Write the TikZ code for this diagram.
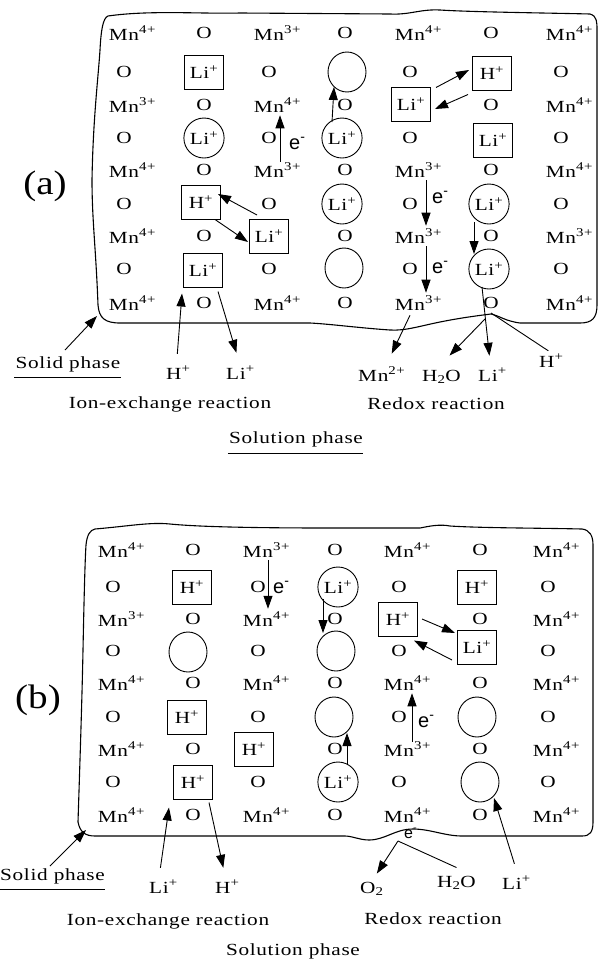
\documentclass[tikz,border=0pt]{standalone}
\usepackage{fontspec}
\setmainfont{Liberation Serif}[FakeStretch=1.25, LetterSpace=4]
\newfontfamily\efam{Liberation Sans}
\newfontfamily\plfam{Liberation Serif}[FakeStretch=1.15]
\usetikzlibrary{calc,shapes.geometric,arrows.meta}
\newcommand\mnx[1]{Mn\rlap{\textsuperscript{#1}}}
\newcommand\lip{Li\textsuperscript{+}}
\newcommand\hp{H\textsuperscript{+}}
\newcommand\elec{e\textsuperscript{-}}
\newcommand\fs{\fontsize{17}{19}\selectfont}
\tikzset{
  t/.style={inner sep=0pt, font=\fs},
  lb/.style={inner sep=0pt, font=\fs, anchor=base west},
  lc/.style={inner sep=0pt, font=\fs, anchor=base},
  bx/.style={draw, line width=1pt, minimum width=39pt, minimum height=34pt, inner sep=0pt, font=\fs},
  cc/.style={draw, ellipse, line width=0.9pt, minimum width=38pt, minimum height=40pt, inner sep=0pt, font=\fs},
  el/.style={inner sep=0pt, anchor=base west, font=\efam\fontsize{20}{21}\selectfont},
  arr/.style={-{Triangle[length=13pt,width=9pt]}, line width=0.9pt},
  ln/.style={line width=0.9pt},
  bd/.style={line width=1.1pt, line join=round},
  ul/.style={line width=0.9pt},
  pl/.style={inner sep=0pt, font=\plfam\fontsize{34}{36}\selectfont}
}
\begin{document}
\begin{tikzpicture}[x=1pt,y=-1pt]
\useasboundingbox (0,0) rectangle (598,975);
\fill[white] (0,0) rectangle (598,975);
% ================= panel (a) =================
\node[pl] (la) at (45,186) {(a)};
\draw[bd] (108,16) .. controls (150,10) and (200,14) .. (240,13) -- (390,14)
  .. controls (410,15) and (420,9) .. (440,10) .. controls (470,12) and (550,13) .. (590,14)
  .. controls (597,16) and (597,22) .. (597,30) -- (597,305)
  .. controls (597,318) and (592,323) .. (580,323) -- (520,323)
  .. controls (505,321) and (500,316) .. (491,314) .. controls (475,316) and (460,318) .. (440,322)
  .. controls (420,326) and (405,331) .. (390,330) .. controls (360,328) and (330,324) .. (310,323)
  -- (120,323) .. controls (105,323) and (99,318) .. (98,305)
  .. controls (96,250) and (92,220) .. (92,180) .. controls (93,120) and (98,80) .. (100,50)
  .. controls (101,30) and (103,18) .. (108,16);
% row 1
\node[t] (a11) at (124,33) {\mnx{4+}};
\node[t] (a12) at (204,33) {O};
\node[t] (a13) at (269,33) {\mnx{3+}};
\node[t] (a14) at (345,33) {O};
\node[t] (a15) at (410,33) {\mnx{4+}};
\node[t] (a16) at (491,33) {O};
\node[t] (a17) at (561,33) {\mnx{4+}};
% row 2
\node[t] (a21) at (124,72) {O};
\node[bx] (a22) at (204,72) {\lip};
\node[t] (a23) at (269,72) {O};
\node[cc] (a24) at (347,72) {};
\node[t] (a25) at (410,72) {O};
\node[bx] (a26) at (492,73) {\hp};
\node[t] (a27) at (561,72) {O};
% row 3
\node[t] (a31) at (124,105) {\mnx{3+}};
\node[t] (a32) at (204,105) {O};
\node[t] (a33) at (269,105) {\mnx{4+}};
\node[t] (a34) at (345,105) {O};
\node[bx] (a35) at (411,104) {\lip};
\node[t] (a36) at (491,105) {O};
\node[t] (a37) at (561,105) {\mnx{4+}};
% row 4
\node[t] (a41) at (124,138) {O};
\node[cc] (a42) at (204,138) {\lip};
\node[t] (a43) at (269,138) {O};
\node[cc] (a44) at (342,138) {\lip};
\node[t] (a45) at (410,138) {O};
\node[bx] (a46) at (493,140) {\lip};
\node[t] (a47) at (561,138) {O};
% row 5
\node[t] (a51) at (124,170) {\mnx{4+}};
\node[t] (a52) at (204,170) {O};
\node[t] (a53) at (269,170) {\mnx{3+}};
\node[t] (a54) at (345,170) {O};
\node[t] (a55) at (410,170) {\mnx{3+}};
\node[t] (a56) at (491,170) {O};
\node[t] (a57) at (561,170) {\mnx{4+}};
% row 6
\node[t] (a61) at (124,204) {O};
\node[bx] (a62) at (201,202) {\hp};
\node[t] (a63) at (269,204) {O};
\node[cc] (a64) at (342,204) {\lip};
\node[t] (a65) at (410,204) {O};
\node[cc] (a66) at (489,204) {\lip};
\node[t] (a67) at (561,204) {O};
% row 7
\node[t] (a71) at (124,236) {\mnx{4+}};
\node[t] (a72) at (204,236) {O};
\node[bx] (a73) at (269,236) {\lip};
\node[t] (a74) at (345,236) {O};
\node[t] (a75) at (410,236) {\mnx{3+}};
\node[t] (a76) at (491,236) {O};
\node[t] (a77) at (561,236) {\mnx{3+}};
% row 8
\node[t] (a81) at (124,269) {O};
\node[bx] (a82) at (203,270) {\lip};
\node[t] (a83) at (269,269) {O};
\node[cc] (a84) at (344,268) {};
\node[t] (a85) at (410,269) {O};
\node[cc] (a86) at (489,269) {\lip};
\node[t] (a87) at (561,269) {O};
% row 9
\node[t] (a91) at (124,303) {\mnx{4+}};
\node[t] (a92) at (204,303) {O};
\node[t] (a93) at (269,303) {\mnx{4+}};
\node[t] (a94) at (345,303) {O};
\node[t] (a95) at (410,303) {\mnx{3+}};
\node[t] (a96) at (491,303) {O};
\node[t] (a97) at (561,303) {\mnx{4+}};
% electrons
\node[el] (ae1) at (289,149) {\elec};
\node[el] (ae2) at (432,203) {\elec};
\node[el] (ae3) at (432,273) {\elec};
% internal arrows
\draw[arr] ($(a53.north)+(11,-1)$) -- ($(a33.south)+(11,3)$);
\draw[arr] ($(a44.center)+(-10,-16)$) -- ($(a24.center)+(-13,15)$);
\draw[arr] ($(a35.north east)+(5,1)$) -- ($(a26.west)+(-3,-3)$);
\draw[arr] ($(a26.south west)+(-4,4)$) -- ($(a35.east)+(4,5)$);
\draw[arr] ($(a63.center)+(-12,11)$) -- ($(a62.east)+(-3,-8)$);
\draw[arr] ($(a62.south east)+(-6,0)$) -- ($(a73.west)+(-1,6)$);
\draw[arr] ($(a55.south)+(16,3)$) -- ($(a75.north)+(16,-3)$);
\draw[arr] ($(a75.south)+(16,3)$) -- ($(a95.north)+(16,-3)$);
\draw[arr] ($(a66.center)+(-15,18)$) -- ($(a86.center)+(-15,-15)$);
% bottom labels (a)
\node[lc] (asp) at (68,368) {Solid phase};
\draw[ul] ($(asp.base west)+(-1,9)$) -- ($(asp.base east)+(0,9)$);
\node[lb] (aH) at (166,379) {\hp};
\node[lb] (aL) at (226,379) {\lip};
\node[lc] (aie) at (170,408) {Ion-exchange reaction};
\node[lb] (aM) at (358,381) {Mn\textsuperscript{2+}};
\node[lb] (aW) at (422,381) {H\textsubscript{2}O};
\node[lb] (aL2) at (478,381) {\lip};
\node[lb] (aH2) at (539,367) {\hp};
\node[lc] (ard) at (436,409) {Redox reaction};
\node[lc] (aso) at (296,443) {Solution phase};
\draw[ul] ($(aso.base west)+(-1,10)$) -- ($(aso.base east)+(0,10)$);
\coordinate (aJ) at (485,319);
\draw[arr] (65,350) -- (97,316);
\draw[arr] ($(aH.north)+(-1,-12)$) -- ($(a82.south west)+(-1,6)$);
\draw[arr] ($(a82.south east)+(-5,4)$) -- ($(aL.north)+(-4,-13)$);
\draw[arr] ($(a95.south)+(0,5)$) -- ($(aM.north)+(10,-13)$);
\draw[arr] (aJ) -- ($(aW.north)+(8,-14)$);
\draw[arr] ($(a86.center)+(-7,18)$) -- ($(aL2.north)+(-3,-12)$);
\draw[ln] ($(aH2.north)+(-3,-3)$) -- (491,313);
% ================= panel (b) =================
\node[pl] (lb) at (38,700) {(b)};
\draw[bd] (95,529) .. controls (130,526) and (150,522) .. (170,524) .. controls (200,527) and (260,528) .. (330,528)
  -- (420,528) .. controls (430,526) and (440,524) .. (450,526) .. controls (480,528) and (540,528) .. (582,529)
  .. controls (590,530) and (593,536) .. (593,545) -- (593,822)
  .. controls (593,832) and (590,836) .. (582,836) -- (462,836)
  .. controls (445,836) and (430,829) .. (413,829) .. controls (395,829) and (385,840) .. (369,840)
  .. controls (360,840) and (352,836) .. (345,836) -- (95,836)
  .. controls (85,836) and (80,832) .. (78,822) .. controls (80,760) and (82,700) .. (83,650)
  .. controls (84,600) and (85,560) .. (86,545) .. controls (87,535) and (90,530) .. (95,529);
% row 1
\node[t] (b11) at (113,550) {\mnx{4+}};
\node[t] (b12) at (193,550) {O};
\node[t] (b13) at (258,550) {\mnx{3+}};
\node[t] (b14) at (335,550) {O};
\node[t] (b15) at (399,550) {\mnx{4+}};
\node[t] (b16) at (480,550) {O};
\node[t] (b17) at (548,550) {\mnx{4+}};
% row 2
\node[t] (b21) at (113,587) {O};
\node[bx] (b22) at (192,587) {\hp};
\node[t] (b23) at (258,587) {O};
\node[cc] (b24) at (338,587) {\lip};
\node[t] (b25) at (399,587) {O};
\node[bx] (b26) at (477,587) {\hp};
\node[t] (b27) at (548,587) {O};
% row 3
\node[t] (b31) at (113,619) {\mnx{3+}};
\node[t] (b32) at (193,619) {O};
\node[t] (b33) at (258,619) {\mnx{4+}};
\node[t] (b34) at (335,619) {O};
\node[bx] (b35) at (398,619) {\hp};
\node[t] (b36) at (480,619) {O};
\node[t] (b37) at (548,619) {\mnx{4+}};
% row 4
\node[t] (b41) at (113,651) {O};
\node[cc] (b42) at (188,652) {};
\node[t] (b43) at (258,651) {O};
\node[cc] (b44) at (336,651) {};
\node[t] (b45) at (399,651) {O};
\node[bx] (b46) at (477,647) {\lip};
\node[t] (b47) at (548,651) {O};
% row 5
\node[t] (b51) at (113,683) {\mnx{4+}};
\node[t] (b52) at (193,683) {O};
\node[t] (b53) at (258,683) {\mnx{4+}};
\node[t] (b54) at (335,683) {O};
\node[t] (b55) at (399,683) {\mnx{4+}};
\node[t] (b56) at (480,683) {O};
\node[t] (b57) at (548,683) {\mnx{4+}};
% row 6
\node[t] (b61) at (113,717) {O};
\node[bx] (b62) at (187,717) {\hp};
\node[t] (b63) at (258,717) {O};
\node[cc] (b64) at (334,717) {};
\node[t] (b65) at (399,717) {O};
\node[cc] (b66) at (477,717) {};
\node[t] (b67) at (548,717) {O};
% row 7
\node[t] (b71) at (113,749) {\mnx{4+}};
\node[t] (b72) at (193,749) {O};
\node[bx] (b73) at (254,749) {\hp};
\node[t] (b74) at (335,749) {O};
\node[t] (b75) at (399,749) {\mnx{3+}};
\node[t] (b76) at (480,749) {O};
\node[t] (b77) at (548,749) {\mnx{4+}};
% row 8
\node[t] (b81) at (113,782) {O};
\node[bx] (b82) at (193,782) {\hp};
\node[t] (b83) at (258,782) {O};
\node[cc] (b84) at (338,782) {\lip};
\node[t] (b85) at (399,782) {O};
\node[cc] (b86) at (480,782) {};
\node[t] (b87) at (548,782) {O};
% row 9
\node[t] (b91) at (113,815) {\mnx{4+}};
\node[t] (b92) at (193,815) {O};
\node[t] (b93) at (258,815) {\mnx{4+}};
\node[t] (b94) at (335,815) {O};
\node[t] (b95) at (399,815) {\mnx{4+}};
\node[t] (b96) at (480,815) {O};
\node[t] (b97) at (548,815) {\mnx{4+}};
% electrons
\node[el] (be1) at (273,593) {\elec};
\node[el] (be2) at (418,727) {\elec};
\node[el, font=\efam\fontsize{16}{17}\selectfont] (be3) at (404,838) {\elec};
% internal arrows
\draw[arr] ($(b13.south)+(10,3)$) -- ($(b33.north)+(10,-3)$);
\draw[arr] ($(b24.center)+(-15,12)$) -- ($(b44.center)+(-13,-18)$);
\draw[arr] ($(b35.east)+(4,0)$) -- ($(b46.west)+(-2,-14)$);
\draw[arr] ($(b46.west)+(-5,13)$) -- ($(b35.south east)+(-4,4)$);
\draw[arr] ($(b75.north)+(13,0)$) -- ($(b55.south)+(13,3)$);
\draw[arr] ($(b84.center)+(9,-17)$) -- ($(b64.center)+(13,16)$);
% bottom labels (b)
\node[lb] (bsp) at (0,880) {Solid phase};
\draw[ul] ($(bsp.base west)+(0,9)$) -- ($(bsp.base east)+(0,9)$);
\node[lb] (bL) at (149,893) {\lip};
\node[lb] (bH) at (215,893) {\hp};
\node[lc] (bie) at (168,925) {Ion-exchange reaction};
\node[lb] (bO) at (360,893) {O\textsubscript{2}};
\node[lb] (bW) at (437,887) {H\textsubscript{2}O};
\node[lb] (bL2) at (502,889) {\lip};
\node[lc] (brd) at (433,924) {Redox reaction};
\node[lc] (bso) at (293,955) {Solution phase};
\coordinate (bJ) at (398,841);
\draw[arr] (50,866) -- (86,830);
\draw[arr] ($(bL.north)+(-3,-12)$) -- ($(b82.south west)+(-4,8)$);
\draw[arr] ($(b82.south east)+(-4,3)$) -- ($(bH.north)+(-4,-12)$);
\draw[arr] (bJ) -- ($(bO.north)+(5,-8)$);
\draw[ln] ($(bW.north)+(0,-8)$) -- (bJ);
\draw[arr] ($(bL2.north)+(-2,-12)$) -- ($(b86.center)+(14,16)$);
\end{tikzpicture}
\end{document}
